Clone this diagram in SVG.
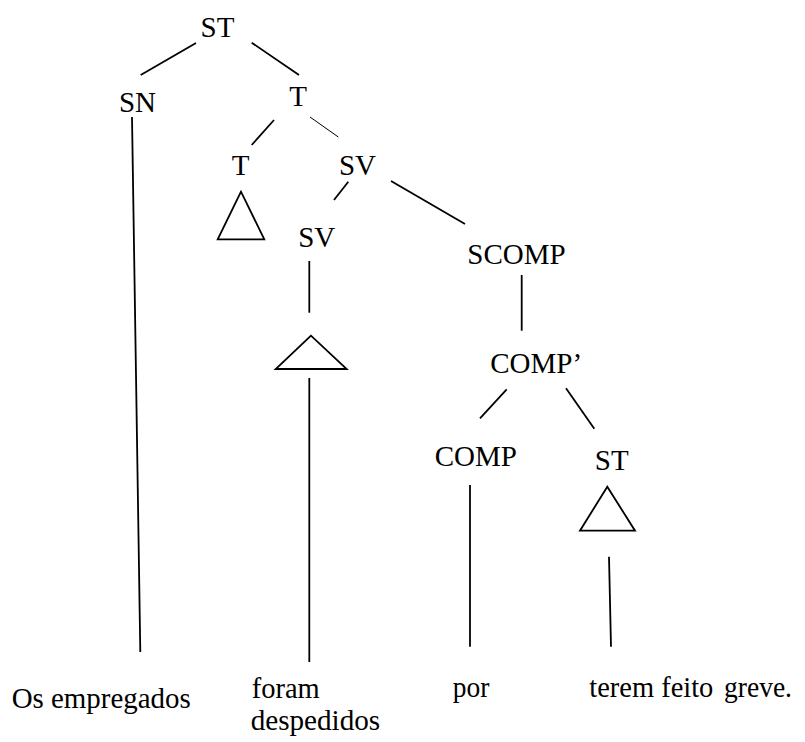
<svg xmlns="http://www.w3.org/2000/svg" width="805" height="742" viewBox="0 0 805 742">
  <style>
    text { font-family: 'Liberation Serif', Tinos, 'Noto Serif', 'Nimbus Roman', FreeSerif, Times, 'DejaVu Serif', serif; fill: #000; }
    .lbl { font-size: 29px; text-anchor: middle; }
    .word { font-size: 30px; }
    .edge { stroke: #000; stroke-width: 1.8; fill: none; stroke-linecap: butt; }
    .thin { stroke-width: 1; }
    .tri { stroke: #000; stroke-width: 1.8; fill: none; stroke-linejoin: miter; }
  </style>
  <rect width="805" height="742" fill="#fff"/>

  <!-- branches of the tree -->
  <g id="connectors">
    <line class="edge" x1="196" y1="43" x2="140.7" y2="75"/>
    <line class="edge" x1="251.7" y1="42.7" x2="299" y2="75"/>
    <line class="edge" x1="132" y1="117" x2="140.3" y2="652"/>
    <line class="edge" x1="274" y1="120" x2="251.7" y2="145"/>
    <line class="edge thin" x1="310" y1="117" x2="338.3" y2="137"/>
    <line class="edge" x1="348.3" y1="181.7" x2="334" y2="200"/>
    <line class="edge" x1="391" y1="181" x2="465" y2="224"/>
    <line class="edge" x1="309.3" y1="261" x2="309.3" y2="312.7"/>
    <line class="edge" x1="309.3" y1="378" x2="309.3" y2="662"/>
    <line class="edge" x1="521.7" y1="275" x2="521.7" y2="330.7"/>
    <line class="edge" x1="506.7" y1="389.3" x2="480" y2="418.3"/>
    <line class="edge" x1="566" y1="388.3" x2="594.3" y2="428.7"/>
    <line class="edge" x1="470" y1="485" x2="470" y2="646.7"/>
    <line class="edge" x1="609" y1="556.7" x2="611" y2="646.7"/>
  </g>

  <!-- category nodes -->
  <g id="node-st-root"><text class="lbl" x="217.5" y="37">ST</text></g>
  <g id="node-sn"><text class="lbl" x="137.5" y="112">SN</text></g>
  <g id="node-t-bar"><text class="lbl" x="298" y="106">T</text></g>
  <g id="node-t">
    <text class="lbl" x="240.5" y="175">T</text>
    <polygon class="tri" points="241,191.7 217.7,239.3 264.3,239.3"/>
  </g>
  <g id="node-sv-upper"><text class="lbl" x="357.5" y="175">SV</text></g>
  <g id="node-sv-lower">
    <text class="lbl" x="316.7" y="246.7">SV</text>
    <polygon class="tri" points="311,335.7 275.7,369 346.7,369"/>
  </g>
  <g id="node-scomp"><text class="lbl" x="516.5" y="264.3">SCOMP</text></g>
  <g id="node-comp-bar"><text class="lbl" x="536.2" y="373.3">COMP’</text></g>
  <g id="node-comp"><text class="lbl" x="475.8" y="466">COMP</text></g>
  <g id="node-st-embedded">
    <text class="lbl" x="611.7" y="470">ST</text>
    <polygon class="tri" points="607.3,486.7 580,530.7 635,530.7"/>
  </g>

  <!-- terminal words -->
  <g id="word-os-empregados"><text class="word" x="11.7" y="708.3" textLength="179" lengthAdjust="spacingAndGlyphs">Os empregados</text></g>
  <g id="word-foram-despedidos">
    <text class="word" x="251.7" y="698.3" textLength="68" lengthAdjust="spacingAndGlyphs">foram</text>
    <text class="word" x="250.7" y="730" textLength="129.5" lengthAdjust="spacingAndGlyphs">despedidos</text>
  </g>
  <g id="word-por"><text class="word" x="452.7" y="697" textLength="36.6" lengthAdjust="spacingAndGlyphs">por</text></g>
  <g id="word-terem-feito-greve">
    <text class="word" x="589.3" y="697" textLength="124" lengthAdjust="spacingAndGlyphs">terem feito</text>
    <text class="word" x="724" y="697" textLength="68" lengthAdjust="spacingAndGlyphs">greve.</text>
  </g>
</svg>
